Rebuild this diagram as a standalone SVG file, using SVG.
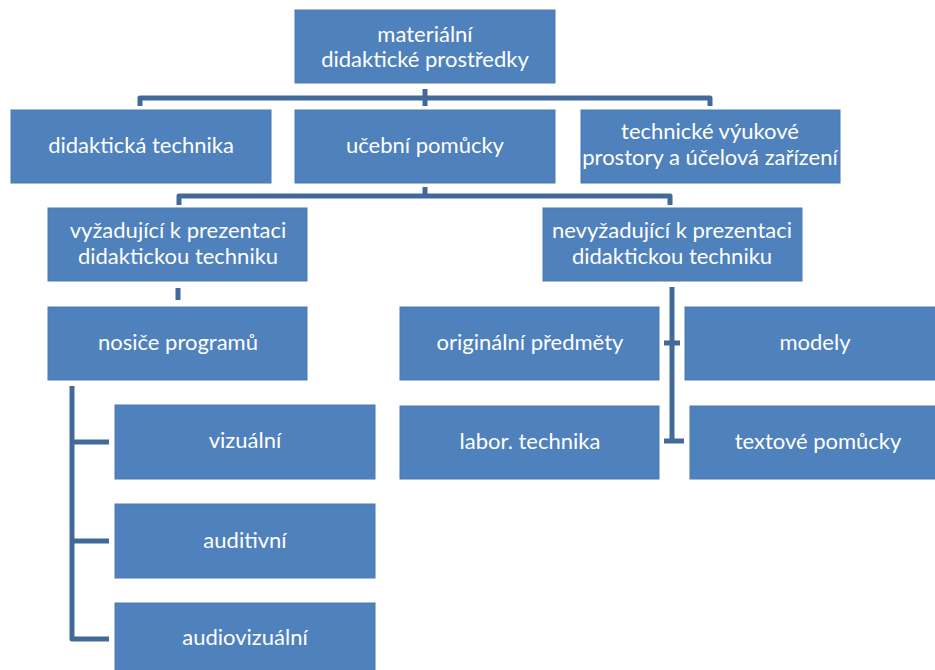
<svg xmlns="http://www.w3.org/2000/svg" width="935" height="670" viewBox="0 0 935 670">
<style>
.b{fill:#4F81BD;stroke:#4A7AB4;stroke-width:1}
.t{fill:#fff;font-family:Lato,"Open Sans","DejaVu Sans",sans-serif;font-size:22px;text-anchor:middle}
.c{fill:none;stroke:#41699A;stroke-width:5;stroke-linejoin:round}
</style>
<rect width="935" height="670" fill="#fff"/>
<g id="connectors">
<path class="c" d="M140,106 V98 H710 V106"/>
<path class="c" d="M425,89 V106"/>
<path class="c" d="M179,205 V196 H670 V205"/>
<path class="c" d="M425,187 V196"/>
<path class="c" d="M178,288 V300"/>
<path class="c" d="M672,287 V441 M664,343 H680 M664,441 H684"/>
<path class="c" d="M72,386 V639 H109 M72,442 H109 M72,541 H109"/>
</g>
<g id="n1"><rect class="b" x="295" y="10" width="260" height="73"/><text class="t" x="425" y="42">materiální</text><text class="t" x="425" y="67">didaktické prostředky</text></g>
<g id="n2"><rect class="b" x="11" y="110" width="260" height="73"/><text class="t" x="141" y="153">didaktická technika</text></g>
<g id="n3"><rect class="b" x="295" y="110" width="260" height="73"/><text class="t" x="425" y="153">učební pomůcky</text></g>
<g id="n4"><rect class="b" x="581" y="110" width="259" height="73"/><text class="t" x="710" y="139">technické výukové</text><text class="t" x="710" y="165">prostory a účelová zařízení</text></g>
<g id="n5"><rect class="b" x="48" y="208" width="259" height="73"/><text class="t" x="178" y="238">vyžadující k prezentaci</text><text class="t" x="178" y="264">didaktickou techniku</text></g>
<g id="n6"><rect class="b" x="543" y="208" width="259" height="73"/><text class="t" x="672" y="238">nevyžadující k prezentaci</text><text class="t" x="672" y="264">didaktickou techniku</text></g>
<g id="n7"><rect class="b" x="48" y="307" width="259" height="73"/><text class="t" x="178" y="350">nosiče programů</text></g>
<g id="n8"><rect class="b" x="400" y="307" width="259" height="73"/><text class="t" x="530" y="350">originální předměty</text></g>
<g id="n9"><rect class="b" x="685" y="307" width="255" height="73"/><text class="t" x="815" y="350">modely</text></g>
<g id="n10"><rect class="b" x="400" y="406" width="259" height="73"/><text class="t" x="530" y="449">labor. technika</text></g>
<g id="n11"><rect class="b" x="690" y="406" width="250" height="73"/><text class="t" x="818" y="449">textové pomůcky</text></g>
<g id="n12"><rect class="b" x="115" y="405" width="260" height="74"/><text class="t" x="245" y="448">vizuální</text></g>
<g id="n13"><rect class="b" x="115" y="504" width="260" height="74"/><text class="t" x="245" y="548">auditivní</text></g>
<g id="n14"><rect class="b" x="115" y="603" width="260" height="74"/><text class="t" x="245" y="645">audiovizuální</text></g>
</svg>
